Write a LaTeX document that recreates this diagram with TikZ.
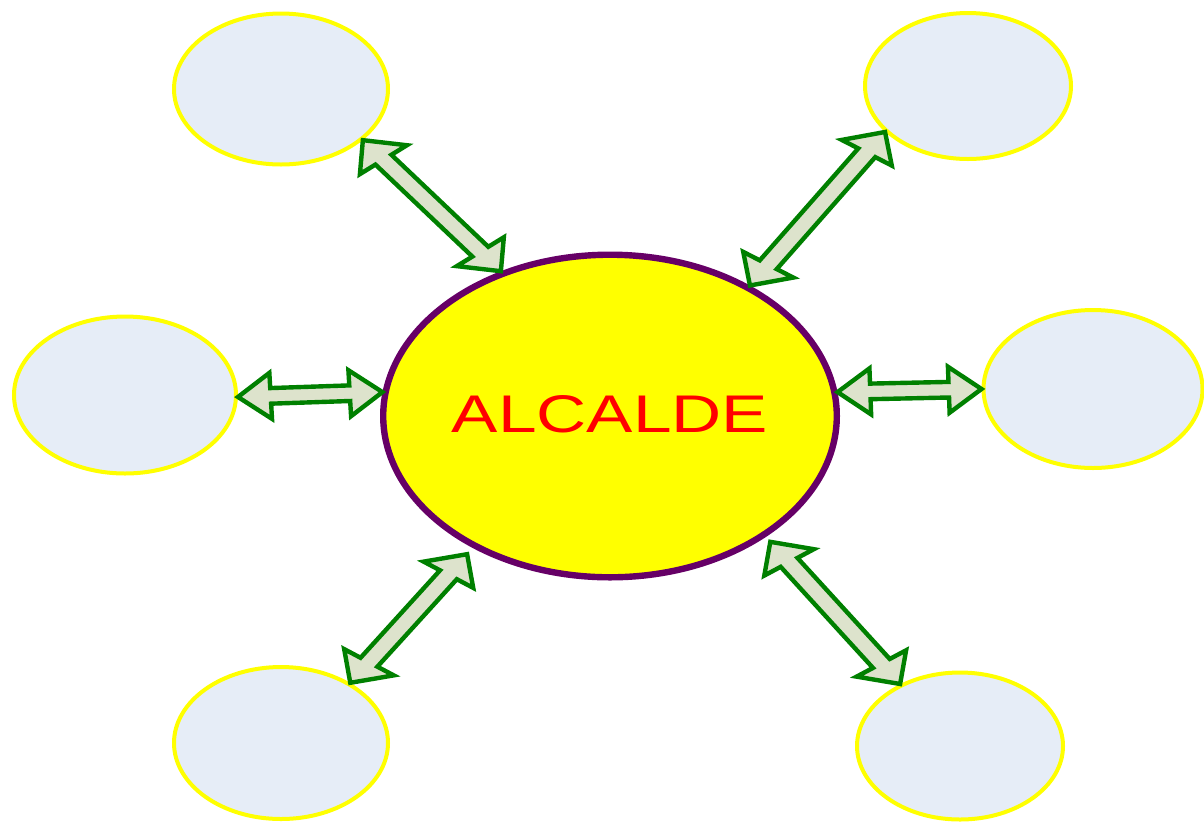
\documentclass[tikz,border=0pt]{standalone}
\usepackage{fontspec}
\setmainfont{Liberation Sans}
\usetikzlibrary{shapes.geometric,calc}
\definecolor{satfill}{RGB}{230,237,247}
\definecolor{satline}{RGB}{255,255,0}
\definecolor{hubfill}{RGB}{255,255,0}
\definecolor{hubtext}{RGB}{255,0,0}
\definecolor{arrfill}{RGB}{221,227,204}
\definecolor{arrline}{RGB}{0,128,0}
\definecolor{hubline}{RGB}{102,0,102}
\newcommand\arrSk{1.31}
\newcommand\arrHl{12.5pt}
\newcommand\arrHw{11.5pt}
\newcommand\arrSw{3.9pt}
\newcommand\dblarrow[2]{%
  \draw[arr] let \p1=(#1), \p2=(#2),
    \n1={((\x2)-(\x1))/\arrSk}, \n2={(\y2)-(\y1)}, \n3={veclen(\n1,\n2)},
    \n4={\arrHl/\n3}, \n5={-\arrSk*(\n2)/\n3}, \n6={(\n1)/\n3},
    \n7={\n4*((\x2)-(\x1))}, \n8={\n4*((\y2)-(\y1))},
    \p3=({\x1+(\n7)},{\y1+(\n8)}), \p4=({\x2-(\n7)},{\y2-(\n8)})
  in (\p1)
    -- ({\x3+\arrHw*(\n5)},{\y3+\arrHw*(\n6)})
    -- ({\x3+\arrSw*(\n5)},{\y3+\arrSw*(\n6)})
    -- ({\x4+\arrSw*(\n5)},{\y4+\arrSw*(\n6)})
    -- ({\x4+\arrHw*(\n5)},{\y4+\arrHw*(\n6)})
    -- (\p2)
    -- ({\x4-\arrHw*(\n5)},{\y4-\arrHw*(\n6)})
    -- ({\x4-\arrSw*(\n5)},{\y4-\arrSw*(\n6)})
    -- ({\x3-\arrSw*(\n5)},{\y3-\arrSw*(\n6)})
    -- ({\x3-\arrHw*(\n5)},{\y3-\arrHw*(\n6)})
    -- cycle;}
\begin{document}
\begin{tikzpicture}[x=0.5pt,y=-0.5pt,
  sat/.style={ellipse,draw=satline,fill=satfill,line width=2pt,inner sep=0pt},
  hub/.style={ellipse,draw=hubline,fill=hubfill,line width=3.2pt,inner sep=0pt,
    minimum width=226.8pt,minimum height=161.3pt,text=hubtext},
  arr/.style={draw=arrline,fill=arrfill,line width=2.2pt,line join=miter}]
\useasboundingbox (0,0) rectangle (1204,826);
\node[hub] (c) at (610,416) {\raisebox{2pt}{\scalebox{1.31}[1]{\fontsize{26.5}{30}\selectfont ALCALDE}}};
\node[sat,minimum width=107pt,minimum height=75.5pt] (tl) at (281,89) {};
\node[sat,minimum width=103pt,minimum height=73pt] (tr) at (968,86) {};
\node[sat,minimum width=111pt,minimum height=78.5pt] (l) at (125,395) {};
\node[sat,minimum width=109.5pt,minimum height=79pt] (r) at (1093,389) {};
\node[sat,minimum width=107pt,minimum height=76pt] (bl) at (281,743) {};
\node[sat,minimum width=103pt,minimum height=73.5pt] (br) at (960,746) {};
\dblarrow{tl.-32.7}{c.127.4}
\dblarrow{tr.-151.8}{c.43.3}
\dblarrow{l.-1}{c.174.7}
\dblarrow{c.6}{r.180}
\dblarrow{$(c.-136)+(-6,6)$}{bl.41.4}
\dblarrow{$(c.-38.6)+(5,4.5)$}{br.134.1}
\end{tikzpicture}
\end{document}
